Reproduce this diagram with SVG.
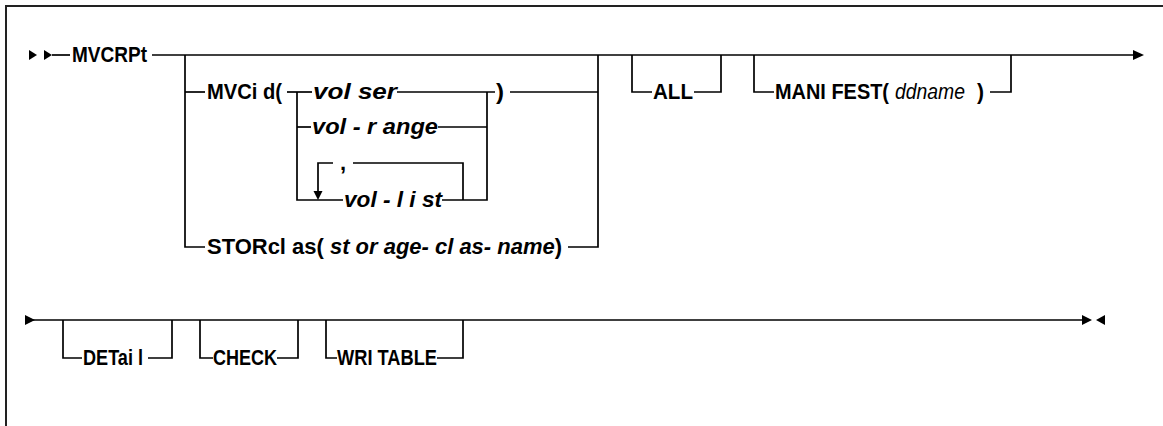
<svg xmlns="http://www.w3.org/2000/svg" width="1163" height="426" viewBox="0 0 1163 426">
<style>
.t{font-family:"Liberation Sans",Arial,sans-serif;font-size:22px;font-weight:bold;fill:#000}
.i{font-style:italic}
.r{font-weight:normal}
.c{fill:none;stroke:#000;stroke-width:1.7}
.ah{fill:#000;stroke:none}
</style>
<rect x="0" y="0" width="1163" height="426" fill="#fff"/>
<path d="M6,440 V6 H1170" fill="none" stroke="#222" stroke-width="2"/>
<g id="connectors">
  <path class="c" d="M52,55 H70"/>
  <path class="c" d="M152,55 H1133"/>
  <path class="ah" d="M29,50 L37,55 L29,60 Z"/>
  <path class="ah" d="M44,50 L52,55 L44,60 Z"/>
  <path class="ah" d="M1133,50 L1144,55 L1133,60 Z"/>
  <path class="c" d="M185,55 V247 H205"/>
  <path class="c" d="M185,92 H205"/>
  <path class="c" d="M287,92 H312"/>
  <path class="c" d="M297,92 V200 H343"/>
  <path class="c" d="M297,127 H311"/>
  <path class="c" d="M397,92 H495"/>
  <path class="c" d="M438,127 H487"/>
  <path class="c" d="M442,200 H487 V92"/>
  <path class="c" d="M318,195 V163 H333"/>
  <path class="c" d="M353,163 H463 V200"/>
  <path class="ah" d="M313.5,191 L322.5,191 L318,200 Z"/>
  <path class="c" d="M510,92 H598"/>
  <path class="c" d="M568,247 H598 V55"/>
  <path class="c" d="M632,55 V92 H652"/>
  <path class="c" d="M694,92 H721 V55"/>
  <path class="c" d="M754,55 V92 H774"/>
  <path class="c" d="M990,92 H1011 V55"/>
  <path class="c" d="M25,320 H1082"/>
  <path class="ah" d="M25,315 L35,320 L25,325 Z"/>
  <path class="ah" d="M1082,315 L1092,320 L1082,325 Z"/>
  <path class="ah" d="M1105,315 L1096,320 L1105,325 Z"/>
  <path class="c" d="M63,320 V358 H82"/>
  <path class="c" d="M148,358 H172 V320"/>
  <path class="c" d="M200,320 V358 H213"/>
  <path class="c" d="M277,358 H298 V320"/>
  <path class="c" d="M326,320 V358 H337"/>
  <path class="c" d="M437,358 H463 V320"/>
</g>
<g id="MVCRPt"><text class="t" x="72" y="62" textLength="75" lengthAdjust="spacingAndGlyphs">MVCRPt</text></g>
<g id="MVCid"><text class="t" x="207" y="99" textLength="75" lengthAdjust="spacingAndGlyphs">MVCi d(</text></g>
<g id="volser"><text class="t i" x="313" y="99" textLength="84" lengthAdjust="spacingAndGlyphs">vol ser</text></g>
<g id="volrange"><text class="t i" x="312" y="134" textLength="126" lengthAdjust="spacingAndGlyphs">vol - r ange</text></g>
<g id="comma"><text class="t" x="340" y="170">,</text></g>
<g id="vollist"><text class="t i" x="344" y="207" textLength="98" lengthAdjust="spacingAndGlyphs">vol - l i st</text></g>
<g id="rparen"><text class="t" x="496" y="99" textLength="8" lengthAdjust="spacingAndGlyphs">)</text></g>
<g id="STORclas"><text class="t" x="207" y="254" textLength="355" lengthAdjust="spacingAndGlyphs">STORcl as( <tspan class="i">st or age- cl as- name</tspan>)</text></g>
<g id="ALL"><text class="t" x="653" y="99" textLength="40" lengthAdjust="spacingAndGlyphs">ALL</text></g>
<g id="MANIFEST">
  <text class="t" x="775" y="99" textLength="114" lengthAdjust="spacingAndGlyphs">MANI FEST(</text>
  <text class="t i r" x="895" y="99" textLength="70" lengthAdjust="spacingAndGlyphs">ddname</text>
  <text class="t" x="977" y="99" textLength="7" lengthAdjust="spacingAndGlyphs">)</text>
</g>
<g id="DETail"><text class="t" x="83" y="365" textLength="60" lengthAdjust="spacingAndGlyphs">DETai l</text></g>
<g id="CHECK"><text class="t" x="213" y="365" textLength="64" lengthAdjust="spacingAndGlyphs">CHECK</text></g>
<g id="WRITABLE"><text class="t" x="337" y="365" textLength="100" lengthAdjust="spacingAndGlyphs">WRI TABLE</text></g>
</svg>
